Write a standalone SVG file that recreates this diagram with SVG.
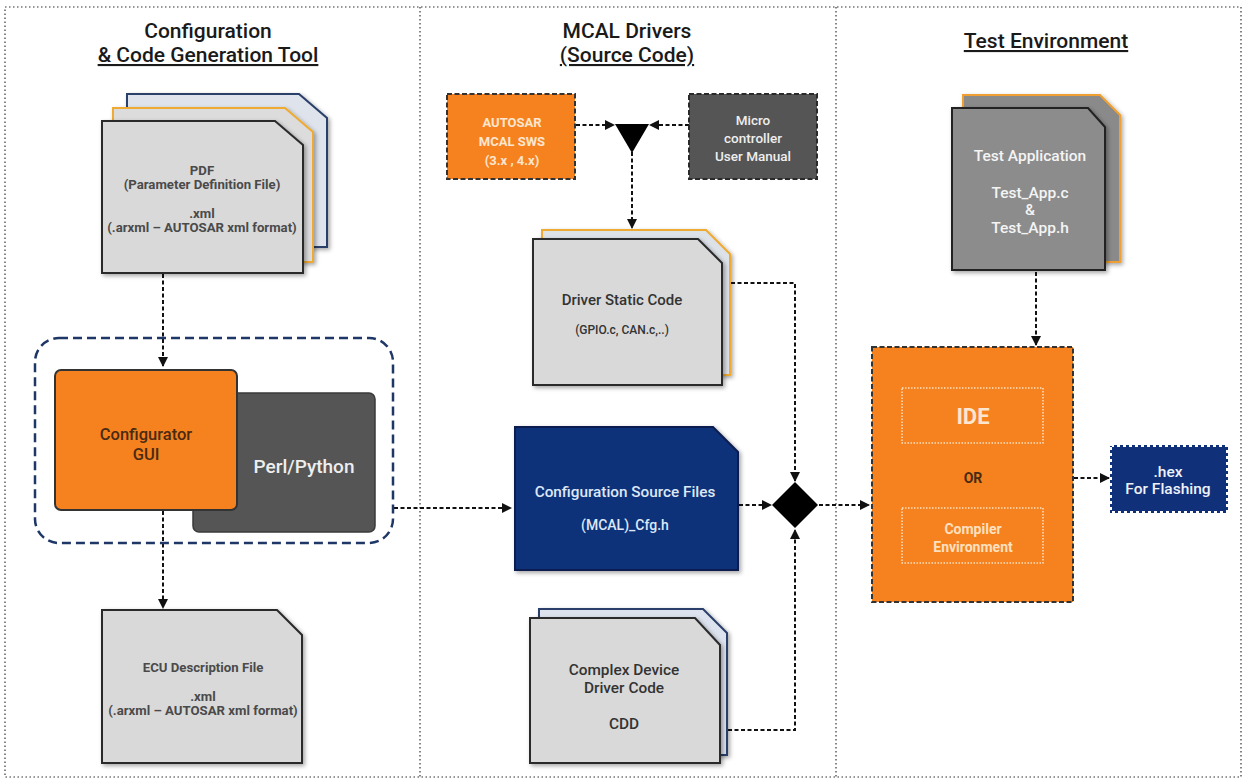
<svg xmlns="http://www.w3.org/2000/svg" width="1246" height="780" viewBox="0 0 1246 780">
<defs>
<style>
.t{font-family:Roboto,"Liberation Sans",sans-serif;text-anchor:middle}
.title{font-size:21px;font-weight:500;fill:#1a1a1a}
.doc{fill:#d9d9d9;stroke:#2b2b2b;stroke-width:2}
.dt{font-size:13.2px;font-weight:700;fill:#4a4a4a}
.conn{fill:none;stroke:#111;stroke-width:2;stroke-dasharray:4 2.5}
.div{fill:none;stroke:#333;stroke-width:1.2;stroke-dasharray:1.5 2.5}
</style>
<marker id="ah" viewBox="0 0 10 10" refX="9" refY="5" markerWidth="5" markerHeight="5" orient="auto" markerUnits="strokeWidth">
<path d="M0,0 L10,5 L0,10 Z" fill="#111"/>
</marker>
<filter id="sh" x="-10%" y="-10%" width="130%" height="130%">
<feDropShadow dx="2" dy="2" stdDeviation="2" flood-color="#000" flood-opacity="0.35"/>
</filter>
</defs>
<rect width="1246" height="780" fill="#fff"/>
<g id="frame">
<rect x="5" y="7" width="1236" height="770" class="div"/>
<line x1="420" y1="7" x2="420" y2="777" class="div"/>
<line x1="836" y1="7" x2="836" y2="777" class="div"/>
</g>
<g id="titles">
<text class="t title" x="208" y="38">Configuration</text>
<text class="t title" x="208" y="62" text-decoration="underline">&amp; Code Generation Tool</text>
<text class="t title" x="627" y="38">MCAL Drivers</text>
<text class="t title" x="627" y="62" text-decoration="underline">(Source Code)</text>
<text class="t title" x="1046" y="48" text-decoration="underline">Test Environment</text>
</g>
<g id="connectors">
<path class="conn" d="M163,274 V366" marker-end="url(#ah)"/>
<path class="conn" d="M163,511 V608" marker-end="url(#ah)"/>
<path class="conn" d="M394,508 H511" marker-end="url(#ah)"/>
<path class="conn" d="M576,125 H614" marker-end="url(#ah)"/>
<path class="conn" d="M689,125 H650" marker-end="url(#ah)"/>
<path class="conn" d="M632,152 V228" marker-end="url(#ah)"/>
<path class="conn" d="M731,283 H795 V481" marker-end="url(#ah)"/>
<path class="conn" d="M739,505 H771" marker-end="url(#ah)"/>
<path class="conn" d="M728,730 H795 V530" marker-end="url(#ah)"/>
<path class="conn" d="M819,505 H869" marker-end="url(#ah)"/>
<path class="conn" d="M1036,272 V345" marker-end="url(#ah)"/>
<path class="conn" d="M1074,478 H1109" marker-end="url(#ah)"/>
<path d="M615,124 H649 L632,153 Z" fill="#000"/>
<path d="M795,482 L818,505 L795,528 L772,505 Z" fill="#000"/>
</g>
<g id="pdf">
<path d="M127,94 H299 L327,118 V247 H127 Z" fill="#dfe4ec" stroke="#2c3f6a" stroke-width="2" filter="url(#sh)"/>
<path d="M113,108 H285 L313,132 V262 H113 Z" fill="#dcdcdc" stroke="#eeaa33" stroke-width="2" filter="url(#sh)"/>
<path d="M102,121 H275 L303,145 V273 H102 Z" class="doc" filter="url(#sh)"/>
<text class="t dt" x="202" y="175">PDF</text>
<text class="t dt" x="202" y="189">(Parameter Definition File)</text>
<text class="t dt" x="202" y="218">.xml</text>
<text class="t dt" x="202" y="232">(.arxml – AUTOSAR xml format)</text>
</g>
<g id="tool-group">
<rect x="35" y="338" width="358" height="205" rx="24" fill="none" stroke="#1e3766" stroke-width="2.5" stroke-dasharray="9 5"/>
</g>
<g id="perl">
<rect x="193" y="393" width="182" height="139" rx="6" fill="#555555" stroke="#3a3a3a" stroke-width="1.5"/>
<text class="t" x="304" y="473" font-size="19" font-weight="500" fill="#eeeeee">Perl/Python</text>
</g>
<g id="configurator">
<rect x="55" y="370" width="182" height="140" rx="6" fill="#f5821f" stroke="#333" stroke-width="2"/>
<text class="t" x="146" y="440" font-size="16.5" font-weight="500" fill="#4a2a12">Configurator</text>
<text class="t" x="146" y="460" font-size="16.5" font-weight="500" fill="#4a2a12">GUI</text>
</g>
<g id="ecu">
<path d="M102,610 H277 L302,635 V763 H102 Z" class="doc" filter="url(#sh)"/>
<text class="t dt" x="203" y="672">ECU Description File</text>
<text class="t dt" x="203" y="701">.xml</text>
<text class="t dt" x="203" y="715">(.arxml – AUTOSAR xml format)</text>
</g>
<g id="autosar">
<rect x="447" y="94" width="128" height="85" fill="#f5821f" stroke="#333" stroke-width="2" stroke-dasharray="5 2.5"/>
<text class="t" x="512" y="127" font-size="13" font-weight="700" fill="#fde6cf">AUTOSAR</text>
<text class="t" x="512" y="146" font-size="13" font-weight="700" fill="#fde6cf">MCAL SWS</text>
<text class="t" x="512" y="165" font-size="13" font-weight="700" fill="#fde6cf">(3.x , 4.x)</text>
</g>
<g id="micro">
<rect x="689" y="94" width="128" height="85" fill="#555555" stroke="#2a2a2a" stroke-width="2" stroke-dasharray="5 2.5"/>
<text class="t" x="753" y="125" font-size="13.5" font-weight="500" fill="#eeeeee">Micro</text>
<text class="t" x="753" y="143" font-size="13.5" font-weight="500" fill="#eeeeee">controller</text>
<text class="t" x="753" y="161" font-size="13.5" font-weight="500" fill="#eeeeee">User Manual</text>
</g>
<g id="driver-static">
<path d="M542,230 H706 L730,254 V375 H542 Z" fill="#dde1e8" stroke="#eeaa33" stroke-width="2" filter="url(#sh)"/>
<path d="M533,239 H698 L722,263 V385 H533 Z" class="doc" filter="url(#sh)"/>
<text class="t" x="622" y="305" font-size="15" font-weight="500" fill="#333">Driver Static Code</text>
<text class="t" x="622" y="334" font-size="12" font-weight="500" fill="#333">(GPIO.c, CAN.c,..)</text>
</g>
<g id="config-source">
<path d="M515,427 H713 L738,452 V570 H515 Z" fill="#10307a" stroke="#0a1f50" stroke-width="2" filter="url(#sh)"/>
<text class="t" x="625" y="497" font-size="15.3" font-weight="500" fill="#dfe7f7">Configuration Source Files</text>
<text class="t" x="625" y="530" font-size="14" font-weight="500" fill="#dfe7f7">(MCAL)_Cfg.h</text>
</g>
<g id="cdd">
<path d="M539,609 H703 L727,633 V755 H539 Z" fill="#dde3ee" stroke="#2c3f6a" stroke-width="2" filter="url(#sh)"/>
<path d="M530,618 H695 L720,645 V763 H530 Z" class="doc" filter="url(#sh)"/>
<text class="t" x="624" y="675" font-size="15.4" font-weight="500" fill="#333">Complex Device</text>
<text class="t" x="624" y="693" font-size="15.4" font-weight="500" fill="#333">Driver Code</text>
<text class="t" x="624" y="729" font-size="15.4" font-weight="500" fill="#333">CDD</text>
</g>
<g id="test-app">
<path d="M963,95 H1100 L1120,115 V262 H963 Z" fill="#8a8a8a" stroke="#f0a030" stroke-width="2" filter="url(#sh)"/>
<path d="M952,108 H1088 L1105,127 V270 H952 Z" fill="#8c8c8c" stroke="#222" stroke-width="2" filter="url(#sh)"/>
<text class="t" x="1030" y="161" font-size="15.5" font-weight="500" fill="#f4f4f4">Test Application</text>
<text class="t" x="1030" y="198" font-size="15.5" font-weight="500" fill="#f4f4f4">Test_App.c</text>
<text class="t" x="1030" y="215" font-size="15.5" font-weight="500" fill="#f4f4f4">&amp;</text>
<text class="t" x="1030" y="233" font-size="15.5" font-weight="500" fill="#f4f4f4">Test_App.h</text>
</g>
<g id="ide-env">
<rect x="872" y="347" width="201" height="255" fill="#f5821f" stroke="#333" stroke-width="2" stroke-dasharray="5 2.5"/>
<rect x="902" y="388" width="141" height="55" fill="none" stroke="#fde0c0" stroke-width="1.5" stroke-dasharray="1.5 1.5"/>
<text class="t" x="973" y="424" font-size="22" font-weight="700" fill="#fde6cf">IDE</text>
<text class="t" x="973" y="483" font-size="14" font-weight="700" fill="#4a2a12">OR</text>
<text class="t" x="973" y="534" font-size="14" font-weight="700" fill="#fde0c0">Compiler</text>
<rect x="902" y="508" width="141" height="55" fill="none" stroke="#fde0c0" stroke-width="1.5" stroke-dasharray="1.5 1.5"/>
<text class="t" x="973" y="552" font-size="14" font-weight="700" fill="#fde0c0">Environment</text>
</g>
<g id="hex">
<rect x="1111" y="446" width="116" height="66" fill="#10307a" stroke="#ffffff" stroke-width="2" stroke-dasharray="3 3"/>
<rect x="1111" y="446" width="116" height="66" fill="none" stroke="#10307a" stroke-width="2" stroke-dasharray="3 3" stroke-dashoffset="3"/>
<text class="t" x="1168" y="477" font-size="15.5" font-weight="500" fill="#eef2fb">.hex</text>
<text class="t" x="1168" y="494" font-size="15.5" font-weight="500" fill="#eef2fb">For Flashing</text>
</g>
</svg>
